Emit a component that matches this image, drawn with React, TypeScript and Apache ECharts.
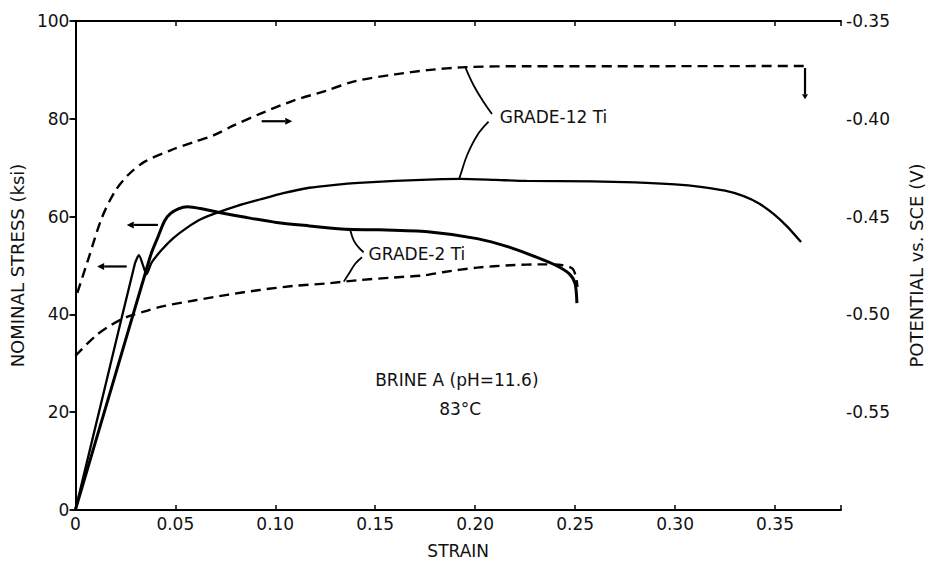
import React, { useEffect, useRef } from "react";
import * as echarts from "echarts";

// ---- data ----
const strainTicks = [0, 0.05, 0.1, 0.15, 0.2, 0.25, 0.3, 0.35];
const stressTicks = [0, 20, 40, 60, 80, 100];
const potentialTicks = [-0.35, -0.4, -0.45, -0.5, -0.55];

// GRADE-12 Ti nominal stress (ksi) vs strain
const g12Strain = [0, 0.015, 0.0298, 0.0318, 0.0347, 0.0356, 0.038, 0.043, 0.049, 0.0561, 0.063, 0.071, 0.081, 0.0923, 0.104, 0.117, 0.13, 0.1417, 0.16, 0.18, 0.1927, 0.21, 0.2257, 0.2586, 0.28, 0.3, 0.3128, 0.325, 0.3343, 0.342, 0.3491, 0.356, 0.363];
const g12Stress = [0, 25.4, 50.4, 52.1, 49.0, 48.2, 50.5, 53.1, 55.6, 57.8, 59.5, 60.8, 62.2, 63.5, 64.8, 65.9, 66.5, 66.9, 67.3, 67.6, 67.7, 67.5, 67.3, 67.2, 67.0, 66.6, 66.1, 65.3, 64.2, 62.7, 60.6, 58.0, 54.8];

// GRADE-2 Ti nominal stress (ksi) vs strain
const g2Strain = [0, 0.017, 0.0347, 0.038, 0.0413, 0.0446, 0.0475, 0.0515, 0.0561, 0.0644, 0.0726, 0.0858, 0.1006, 0.117, 0.1352, 0.1516, 0.1763, 0.201, 0.2174, 0.2306, 0.2405, 0.2471, 0.25, 0.2509];
const g2Stress = [0, 23.5, 48.0, 52.5, 55.8, 59.1, 60.6, 61.6, 62.0, 61.5, 60.8, 59.8, 58.8, 58.1, 57.4, 57.3, 56.9, 55.5, 53.7, 51.7, 50.0, 48.3, 46.3, 42.3];

// GRADE-12 Ti potential vs SCE (V)
const g12PotStrain = [0.001, 0.0068, 0.0133, 0.0199, 0.0265, 0.0347, 0.0479, 0.0594, 0.0693, 0.0792, 0.0923, 0.1088, 0.1253, 0.1401, 0.1599, 0.1763, 0.1952, 0.2257, 0.2899, 0.3664];
const g12Pot = [-0.489, -0.4707, -0.4505, -0.437, -0.4286, -0.4219, -0.416, -0.4118, -0.4084, -0.4034, -0.3975, -0.3908, -0.3857, -0.3807, -0.3773, -0.3751, -0.3736, -0.3731, -0.3731, -0.373];

// GRADE-2 Ti potential vs SCE (V)
const g2PotStrain = [0, 0.01, 0.0183, 0.0265, 0.0347, 0.043, 0.0594, 0.0759, 0.0923, 0.1088, 0.1253, 0.1417, 0.1582, 0.1747, 0.1845, 0.201, 0.2174, 0.2339, 0.2438, 0.2487, 0.2504, 0.2512];
const g2Pot = [-0.5212, -0.5111, -0.5052, -0.501, -0.4985, -0.496, -0.4929, -0.49, -0.4875, -0.4855, -0.4842, -0.4825, -0.4812, -0.48, -0.4783, -0.4761, -0.4749, -0.4744, -0.4749, -0.4766, -0.4808, -0.4859];

// ---- annotations (in data coordinates: strain, ksi) ----
const rightArrows = [{ from: [0.0932, 79.5], to: [0.1085, 79.5] }];
const leftArrows = [
  { from: [0.0413, 58.3], to: [0.0257, 58.3] },
  { from: [0.0257, 49.8], to: [0.0109, 49.8] },
];
const failureMarker = { from: [0.365, 90.4], to: [0.365, 84.0] };
const bracket12Upper = [[0.1952, 90.4], [0.1994, 86.7], [0.2043, 83.4], [0.2084, 81.0]];
const bracket12Lower = [[0.2067, 79.4], [0.201, 76.6], [0.196, 72.6], [0.1927, 68.6], [0.1919, 67.6]];
const bracket2Upper = [[0.1376, 57.1], [0.1393, 55.1], [0.1417, 53.7], [0.1442, 52.7]];
const bracket2Lower = [[0.1434, 51.7], [0.1401, 50.4], [0.1368, 48.3], [0.1343, 46.7]];
const labels = [
  { text: "GRADE-12 Ti", at: [0.2123, 80.3] },
  { text: "GRADE-2 Ti", at: [0.1467, 52.4] },
  { text: "BRINE A (pH=11.6)", at: [0.15, 26.5] },
  { text: "83°C", at: [0.182, 20.7] },
];

const FONT = "DejaVu Sans";
const INK = "#111";

const zip = (xs: number[], ys: number[]) => xs.map((x, i) => [x, ys[i]]);

export default function App() {
  const ref = useRef<HTMLDivElement>(null);
  useEffect(() => {
    const chart = echarts.init(ref.current!, null, { renderer: "svg" });
    const axisText = { fontFamily: FONT, fontSize: 17, color: INK };
    const option: any = {
      animation: false,
      backgroundColor: "#fff",
      grid: { left: 73, right: 85, top: 21, bottom: 48 },
      xAxis: [
        {
          type: "value",
          min: 0,
          max: 0.383,
          interval: 0.05,
          name: "STRAIN",
          nameLocation: "middle",
          nameGap: 32,
          nameTextStyle: { fontFamily: FONT, fontSize: 17, color: INK },
          axisLine: { lineStyle: { color: "#000", width: 2 } },
          axisTick: { inside: true, length: 5, lineStyle: { color: "#000", width: 1.5 } },
          axisLabel: {
            ...axisText,
            margin: 5,
            formatter: (v: number) =>
              strainTicks.some((t) => Math.abs(t - v) < 1e-6) ? (v === 0 ? "0" : v.toFixed(2)) : "",
          },
          splitLine: { show: false },
        },
        {
          type: "value",
          position: "top",
          min: 0,
          max: 0.383,
          interval: 0.05,
          axisLine: { lineStyle: { color: "#000", width: 2 } },
          axisTick: { inside: true, length: 5, lineStyle: { color: "#000", width: 1.5 } },
          axisLabel: { show: false },
          splitLine: { show: false },
        },
      ],
      yAxis: [
        {
          type: "value",
          min: 0,
          max: 100,
          interval: 20,
          name: "NOMINAL STRESS (ksi)",
          nameLocation: "middle",
          nameRotate: 90,
          nameGap: 33,
          nameTextStyle: { fontFamily: FONT, fontSize: 18, color: INK },
          axisLine: { lineStyle: { color: "#000", width: 2 } },
          axisTick: { inside: false, length: 5, lineStyle: { color: "#000", width: 1.5 } },
          axisLabel: {
            ...axisText,
            margin: 6,
            formatter: (v: number) => (stressTicks.includes(Math.round(v)) ? String(Math.round(v)) : ""),
          },
          splitLine: { show: false },
        },
        {
          type: "value",
          position: "right",
          min: -0.6,
          max: -0.35,
          interval: 0.05,
          name: "POTENTIAL vs. SCE (V)",
          nameLocation: "middle",
          nameRotate: 90,
          nameGap: 66,
          nameTextStyle: { fontFamily: FONT, fontSize: 18, color: INK },
          axisLine: { show: true, lineStyle: { color: "#000", width: 2 } },
          axisTick: { show: true, inside: true, length: 6, lineStyle: { color: "#000", width: 1.5 } },
          axisLabel: {
            ...axisText,
            margin: 5,
            formatter: (v: number) =>
              potentialTicks.some((t) => Math.abs(t - v) < 1e-6) ? v.toFixed(2) : "",
          },
          splitLine: { show: false },
        },
      ],
      series: [
        {
          name: "GRADE-12 Ti stress",
          type: "line",
          xAxisIndex: 0,
          yAxisIndex: 0,
          data: zip(g12Strain, g12Stress),
          symbol: "none",
          smooth: 0.2,
          lineStyle: { color: "#000", width: 2.3 },
        },
        {
          name: "GRADE-2 Ti stress",
          type: "line",
          xAxisIndex: 0,
          yAxisIndex: 0,
          data: zip(g2Strain, g2Stress),
          symbol: "none",
          smooth: 0.25,
          lineStyle: { color: "#000", width: 3 },
        },
        {
          name: "GRADE-12 Ti potential",
          type: "line",
          xAxisIndex: 0,
          yAxisIndex: 1,
          data: zip(g12PotStrain, g12Pot),
          symbol: "none",
          smooth: 0.3,
          lineStyle: { color: "#000", width: 2.4, type: [10, 6] },
        },
        {
          name: "GRADE-2 Ti potential",
          type: "line",
          xAxisIndex: 0,
          yAxisIndex: 1,
          data: zip(g2PotStrain, g2Pot),
          symbol: "none",
          smooth: 0.3,
          lineStyle: { color: "#000", width: 2.4, type: [10, 6] },
        },
      ],
    };
    chart.setOption(option);

    const px = (p: number[]) => chart.convertToPixel({ seriesIndex: 0 }, p) as number[];
    const graphics: any[] = [];
    const stroke = { stroke: "#000", lineWidth: 2.2, fill: "none" };
    const arrow = (from: number[], to: number[], head = 7, width = 3.5) => {
      const a = px(from);
      const b = px(to);
      const dx = b[0] - a[0];
      const dy = b[1] - a[1];
      const len = Math.hypot(dx, dy) || 1;
      const ux = dx / len;
      const uy = dy / len;
      const bx = b[0] - ux * head;
      const by = b[1] - uy * head;
      graphics.push({ type: "line", shape: { x1: a[0], y1: a[1], x2: bx, y2: by }, style: stroke, silent: true });
      graphics.push({
        type: "polygon",
        shape: { points: [[b[0], b[1]], [bx - uy * width, by + ux * width], [bx + uy * width, by - ux * width]] },
        style: { fill: "#000" },
        silent: true,
      });
    };
    rightArrows.forEach((a) => arrow(a.from, a.to));
    leftArrows.forEach((a) => arrow(a.from, a.to));
    arrow(failureMarker.from, failureMarker.to, 5, 3);
    [bracket12Upper, bracket12Lower, bracket2Upper, bracket2Lower].forEach((pts) => {
      graphics.push({
        type: "polyline",
        shape: { points: pts.map(px), smooth: 0.4 },
        style: { stroke: "#000", lineWidth: 1.8, fill: "none" },
        silent: true,
      });
    });
    labels.forEach((l) => {
      const p = px(l.at);
      graphics.push({
        type: "text",
        x: p[0],
        y: p[1],
        style: { text: l.text, fontFamily: FONT, fontSize: 17, fill: INK, align: "left", verticalAlign: "middle" },
        silent: true,
      });
    });
    chart.setOption({ graphic: graphics });
    return () => chart.dispose();
  }, []);
  return <div ref={ref} style={{ position: "absolute", left: 0, top: 0, width: 933, height: 564 }} />;
}
